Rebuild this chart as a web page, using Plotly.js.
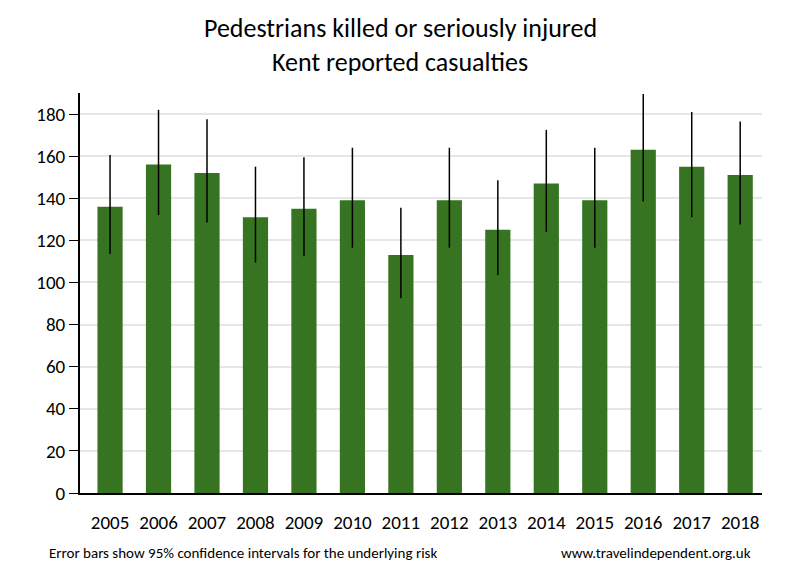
<!DOCTYPE html>
<html>
<head>
<meta charset="utf-8">
<script src="https://cdn.plot.ly/plotly-3.0.1.min.js"></script>
<style>html,body{margin:0;padding:0;background:#fff;}#chart{width:800px;height:580px;}</style>
</head>
<body>
<div id="chart"></div>
<script>
const years = ['2005','2006','2007','2008','2009','2010','2011','2012','2013','2014','2015','2016','2017','2018'];
const casualties = [136, 156, 152, 131, 135, 139, 113, 139, 125, 147, 139, 163, 155, 151];
const upperCI = [160.5, 182, 177.5, 155, 159.5, 164, 135.5, 164, 148.5, 172.5, 164, 189.5, 181, 176.5];
const lowerCI = [113.5, 132, 128.5, 109.5, 112.5, 116.5, 92.5, 116.5, 103.5, 124, 116.5, 138.5, 131, 127.5];
const yTicks = [0, 20, 40, 60, 80, 100, 120, 140, 160, 180];
const titleLines = ['Pedestrians killed or seriously injured', 'Kent reported casualties'];

const font = "Carlito, 'Open Sans', 'Liberation Sans', sans-serif";

const trace = {
  type: 'bar',
  x: years,
  y: casualties,
  width: 0.52,
  marker: {color: '#377421'},
  error_y: {
    type: 'data',
    symmetric: false,
    array: casualties.map((v, i) => upperCI[i] - v),
    arrayminus: casualties.map((v, i) => v - lowerCI[i]),
    color: '#000000',
    thickness: 1.5,
    width: 0
  },
  hoverinfo: 'none'
};

const layout = {
  width: 800,
  height: 580,
  margin: {l: 80, r: 38, t: 93, b: 87},
  paper_bgcolor: '#ffffff',
  plot_bgcolor: '#ffffff',
  showlegend: false,
  font: {family: font, color: '#000000'},
  xaxis: {
    type: 'category',
    tickvals: years,
    ticktext: years,
    showgrid: false,
    showline: true,
    linecolor: '#000000',
    linewidth: 2,
    ticks: '',
    ticklabelstandoff: 11,
    tickfont: {size: 19, family: font, color: '#000000'},
    range: [-0.62, 13.45],
    fixedrange: true
  },
  yaxis: {
    range: [0, 190],
    tickvals: yTicks,
    ticktext: yTicks.map(String),
    showgrid: true,
    gridcolor: '#e6e6e6',
    gridwidth: 2,
    showline: true,
    linecolor: '#000000',
    linewidth: 2,
    ticks: 'outside',
    ticklen: 9,
    tickwidth: 1,
    tickcolor: '#000000',
    zeroline: false,
    tickfont: {size: 19, family: font, color: '#000000'},
    fixedrange: true
  },
  annotations: [
    {
      text: titleLines[0],
      xref: 'paper', yref: 'paper', x: (400 - 80) / 682, y: 1 + (93 - 28) / 400,
      xanchor: 'center', yanchor: 'middle', showarrow: false,
      font: {size: 26, family: font, color: '#000000'}
    },
    {
      text: titleLines[1],
      xref: 'paper', yref: 'paper', x: (400 - 80) / 682, y: 1 + (93 - 62) / 400,
      xanchor: 'center', yanchor: 'middle', showarrow: false,
      font: {size: 26, family: font, color: '#000000'}
    },
    {
      text: 'Error bars show 95% confidence intervals for the underlying risk',
      xref: 'paper', yref: 'paper', x: (47 - 80) / 682, y: -(553 - 493) / 400,
      xanchor: 'left', yanchor: 'middle', showarrow: false,
      font: {size: 15, family: font, color: '#000000'}
    },
    {
      text: 'www.travelindependent.org.uk',
      xref: 'paper', yref: 'paper', x: (753 - 80) / 682, y: -(553 - 493) / 400,
      xanchor: 'right', yanchor: 'middle', showarrow: false,
      font: {size: 15, family: font, color: '#000000'}
    }
  ]
};

Plotly.newPlot('chart', [trace], layout, {staticPlot: true, displayModeBar: false});
</script>
</body>
</html>
